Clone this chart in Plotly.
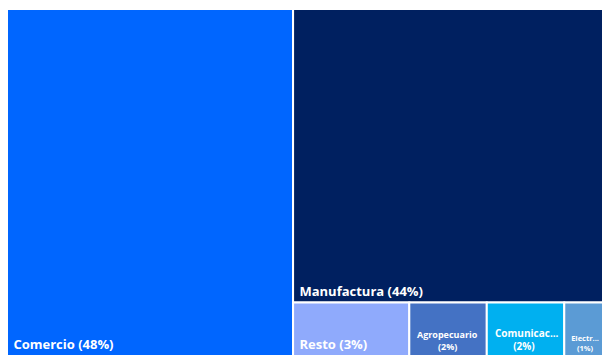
import plotly.graph_objects as go

# Participación por sector (%)
sectores = ["Comercio", "Manufactura", "Resto", "Agropecuario", "Comunicaciones", "Electricidad"]
participacion = [48, 44, 3, 2, 2, 1]
etiquetas = ["\u00a0Comercio (48%)", "\u00a0Manufactura (44%)", "\u00a0Resto (3%)",
             "\u00a0\u00a0Agropecuario<br>\u00a0\u00a0\u00a0\u00a0\u00a0\u00a0\u00a0\u00a0\u00a0\u00a0\u00a0(2%)",
             "\u00a0\u00a0Comunicac...<br>\u00a0\u00a0\u00a0\u00a0\u00a0\u00a0\u00a0\u00a0\u00a0(2%)",
             "\u00a0\u00a0Electr...<br>\u00a0\u00a0\u00a0\u00a0\u00a0(1%)"]
colores = ["#0066FF", "#002060", "#8FAAFC", "#4472C4", "#00B0F0", "#5B9BD5"]
tamanos = [13, 13, 13, 9, 10, 7.5]

fig = go.Figure(go.Treemap(
    labels=sectores,
    parents=[""] * len(sectores),
    values=participacion,
    text=etiquetas,
    texttemplate="<b>%{text}</b>",
    textposition="bottom left",
    textfont=dict(family="Open Sans, sans-serif", color="white", size=tamanos),
    marker=dict(colors=colores, line=dict(color="white", width=2), pad=dict(t=0, l=0, r=0, b=0)),
    tiling=dict(packing="squarify", pad=0),
    sort=False,
    hoverinfo="label+value",
    pathbar=dict(visible=False),
))

fig.update_layout(
    width=603,
    height=356,
    margin=dict(l=7, r=0, t=9, b=0),
    paper_bgcolor="white",
    uniformtext=dict(minsize=6),
)

fig.write_html("out.html")
